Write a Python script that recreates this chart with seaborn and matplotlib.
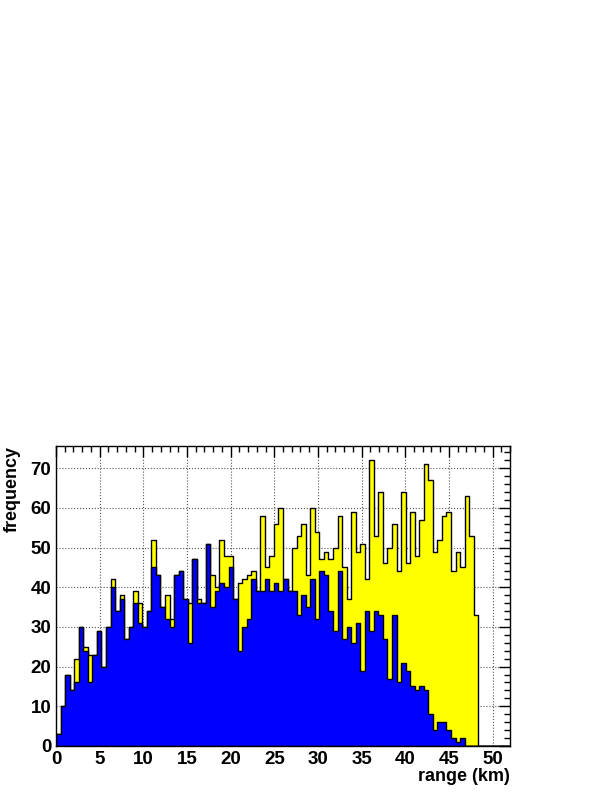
import numpy as np
import pandas as pd
import matplotlib.pyplot as plt
import seaborn as sns
from matplotlib.ticker import MultipleLocator

# 100 bins from 0 to 52 km (0.52 km each); only the first 93 are filled
all_counts = [3, 10, 18, 14, 22, 30, 25, 23, 23, 29,
              20, 30, 42, 34, 38, 27, 30, 39, 36, 30,
              34, 52, 43, 35, 38, 32, 43, 44, 37, 36,
              47, 37, 36, 51, 43, 40, 52, 48, 48, 37,
              41, 42, 43, 44, 39, 58, 45, 48, 56, 60,
              42, 39, 50, 53, 56, 43, 60, 54, 47, 49,
              47, 50, 58, 45, 37, 59, 49, 51, 42, 72,
              53, 64, 46, 50, 56, 44, 64, 46, 59, 48,
              57, 71, 67, 49, 52, 58, 59, 44, 49, 45,
              63, 53, 33, 0, 0, 0, 0, 0, 0, 0]
blue_counts = [3, 10, 18, 14, 16, 30, 24, 16, 23, 29,
               20, 30, 40, 34, 37, 27, 30, 36, 31, 30,
               34, 45, 43, 35, 32, 30, 43, 44, 37, 26,
               47, 36, 36, 51, 35, 39, 41, 40, 45, 37,
               24, 30, 32, 42, 39, 39, 42, 39, 41, 39,
               42, 39, 39, 33, 38, 35, 42, 32, 44, 43,
               34, 29, 44, 27, 30, 26, 31, 19, 34, 29,
               34, 33, 27, 17, 33, 16, 21, 19, 15, 14,
               15, 14, 8, 4, 6, 6, 4, 2, 1, 2,
               0, 0, 0, 0, 0, 0, 0, 0, 0, 0]
x_min, x_max = 0, 52

nbins = len(all_counts)
bin_width = (x_max - x_min) / nbins
df = pd.DataFrame({
    "range": x_min + (np.arange(nbins) + 0.5) * bin_width,
    "all": all_counts,
    "blue": blue_counts,
})

sns.set_style("white")
plt.rcParams["font.family"] = ["Liberation Sans", "DejaVu Sans"]
plt.rcParams["font.weight"] = "bold"
plt.rcParams["text.color"] = "black"
plt.rcParams["axes.labelcolor"] = "black"

fig = plt.figure(figsize=(6.13, 7.93), dpi=100)
ax = fig.add_axes([0.0914, 0.0593, 0.7406, 0.3783])

hist_kws = dict(x="range", bins=nbins, binrange=(x_min, x_max),
                element="step", fill=True, alpha=1, edgecolor="black",
                linewidth=1, ax=ax)
sns.histplot(data=df, weights="all", color="#ffff00", **hist_kws)
sns.histplot(data=df, weights="blue", color="#0000ff", **hist_kws)

ax.set_xlim(x_min, x_max)
ax.set_ylim(0, 75.6)
ax.xaxis.set_major_locator(MultipleLocator(5))
ax.xaxis.set_minor_locator(MultipleLocator(1))
ax.yaxis.set_major_locator(MultipleLocator(10))
ax.yaxis.set_minor_locator(MultipleLocator(2))
ax.tick_params(which="both", direction="in", top=True, right=True,
               colors="black", labelsize=13.5)
ax.tick_params(which="major", length=8, width=1)
ax.tick_params(which="minor", length=4, width=1)

ax.set_axisbelow(True)
ax.grid(True, which="major", linestyle=":", color="#555555", linewidth=0.8)
for s in ax.spines.values():
    s.set_color("black")
    s.set_linewidth(1)

ax.set_xlabel("range (km)", loc="right", fontsize=13, fontweight="bold",
              color="black")
ax.xaxis.set_label_coords(1.0, -0.072)
ax.set_ylabel("frequency", loc="top", fontsize=13, fontweight="bold",
              color="black")
ax.yaxis.set_label_coords(-0.078, 1.0)

fig.savefig("out.png", dpi=100)
